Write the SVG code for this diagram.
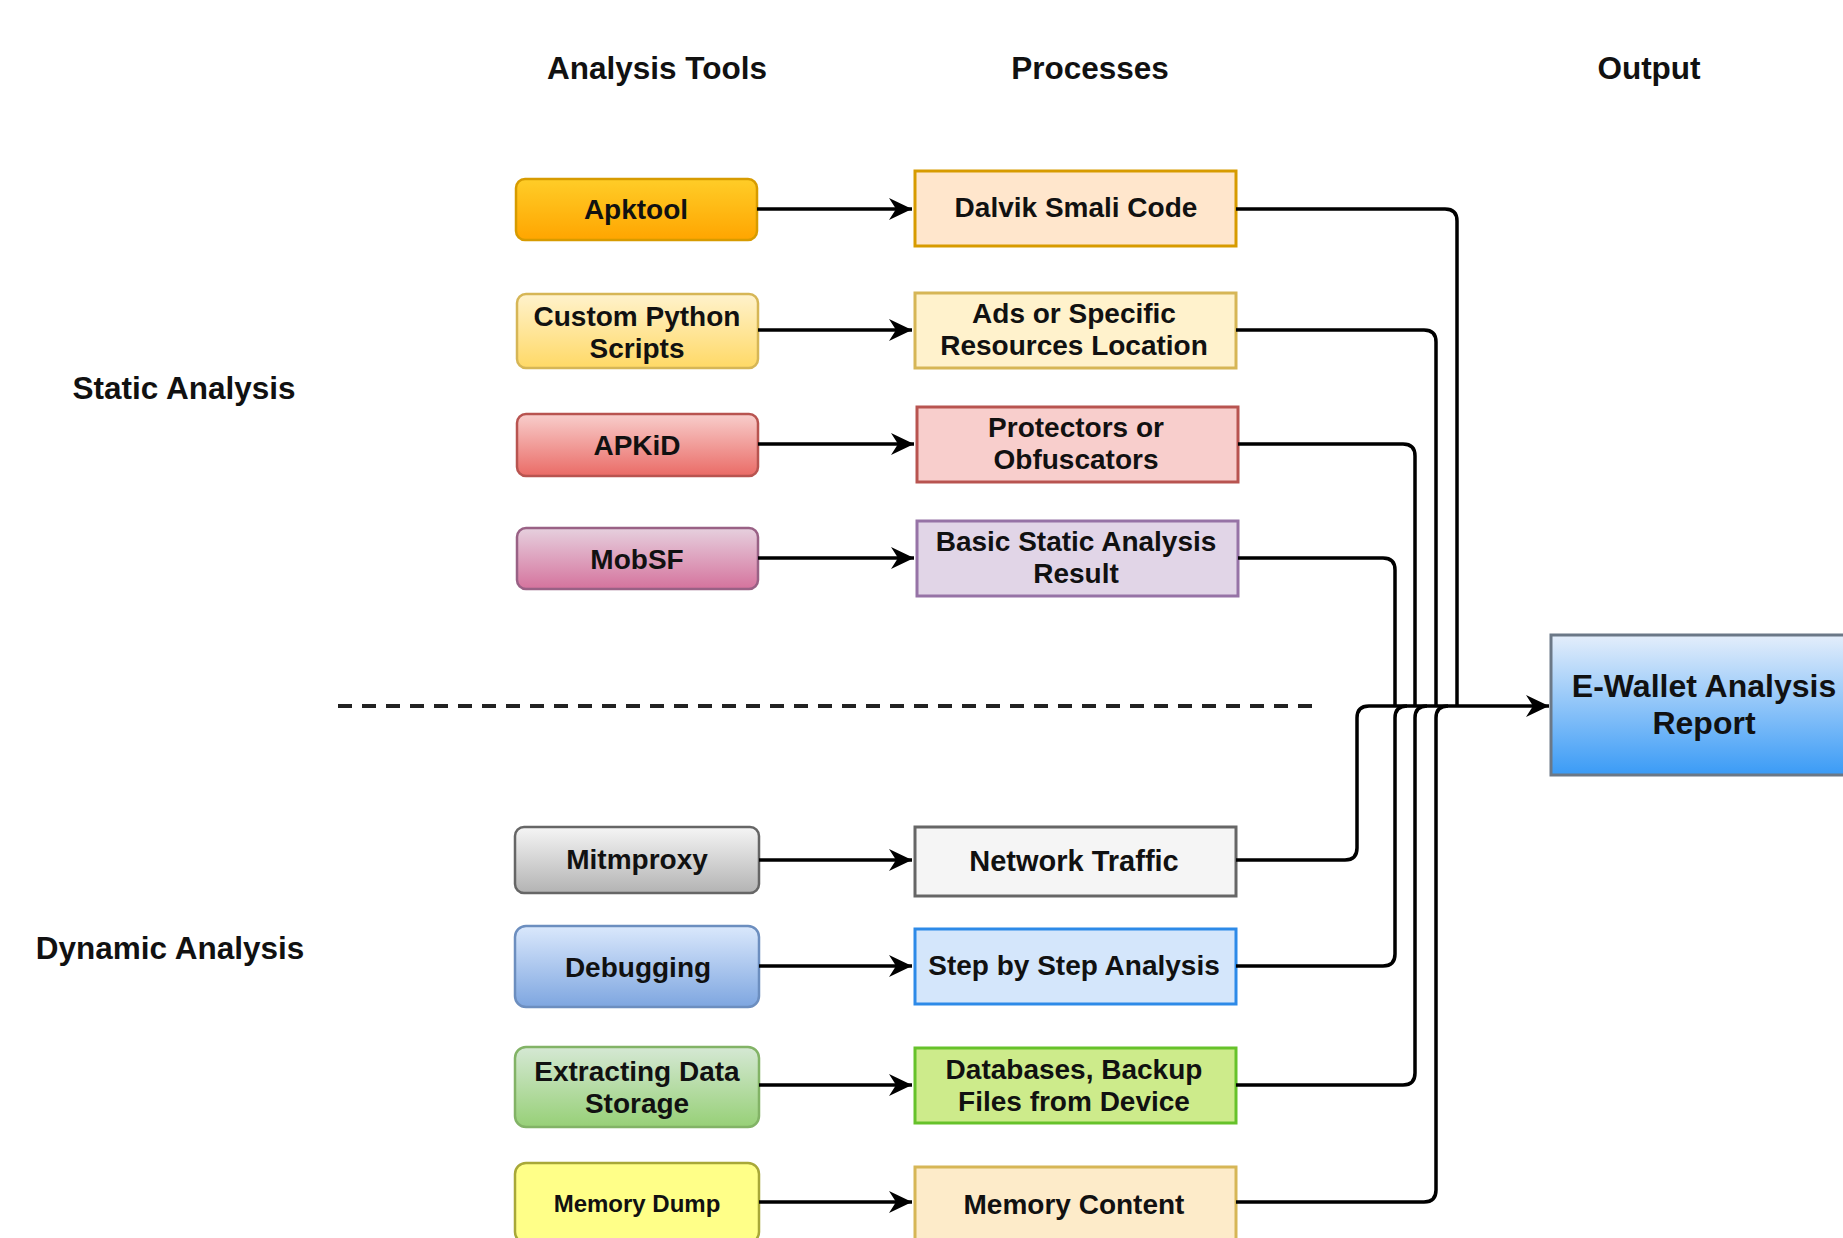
<svg xmlns="http://www.w3.org/2000/svg" width="1843" height="1238" viewBox="0 0 1843 1238">
<style>
text{font-family:"Liberation Sans",Arial,sans-serif;font-weight:bold;fill:#111;text-anchor:middle;dominant-baseline:central}
.hdr{font-size:31.5px}
.lbl{font-size:28px}
.tool{stroke-width:2.5}
.proc{stroke-width:3}
.conn{fill:none;stroke:#000;stroke-width:3.5}
.sep{fill:none;stroke:#222;stroke-width:4;stroke-dasharray:14 10}
</style>
<defs>
<marker id="arr" markerUnits="userSpaceOnUse" markerWidth="25" markerHeight="24" viewBox="0 0 25 24" refX="24" refY="12" orient="auto">
<path d="M24,12 L1,1 L8,12 L1,23 Z" fill="#000"/>
</marker>
<linearGradient id="gApk" x1="0" y1="0" x2="0" y2="1"><stop offset="0" stop-color="#ffcd28"/><stop offset="1" stop-color="#ffa500"/></linearGradient>
<linearGradient id="gPy" x1="0" y1="0" x2="0" y2="1"><stop offset="0" stop-color="#fff2cc"/><stop offset="1" stop-color="#ffd966"/></linearGradient>
<linearGradient id="gKid" x1="0" y1="0" x2="0" y2="1"><stop offset="0" stop-color="#f8cecc"/><stop offset="1" stop-color="#ea6b66"/></linearGradient>
<linearGradient id="gMob" x1="0" y1="0" x2="0" y2="1"><stop offset="0" stop-color="#e6d0de"/><stop offset="1" stop-color="#d5739d"/></linearGradient>
<linearGradient id="gMit" x1="0" y1="0" x2="0" y2="1"><stop offset="0" stop-color="#f5f5f5"/><stop offset="1" stop-color="#b3b3b3"/></linearGradient>
<linearGradient id="gDbg" x1="0" y1="0" x2="0" y2="1"><stop offset="0" stop-color="#dae8fc"/><stop offset="1" stop-color="#7ea6e0"/></linearGradient>
<linearGradient id="gExt" x1="0" y1="0" x2="0" y2="1"><stop offset="0" stop-color="#d5e8d4"/><stop offset="1" stop-color="#97d077"/></linearGradient>
<linearGradient id="gOut" x1="0" y1="0" x2="0" y2="1"><stop offset="0" stop-color="#e4eefb"/><stop offset="1" stop-color="#3a9bf6"/></linearGradient>
</defs>
<rect width="1843" height="1238" fill="#ffffff"/>

<g id="headers">
<text class="hdr" x="657" y="68">Analysis Tools</text>
<text class="hdr" x="1090" y="68">Processes</text>
<text class="hdr" x="1649" y="68">Output</text>
<text class="hdr" x="184" y="388">Static Analysis</text>
<text class="hdr" x="170" y="948">Dynamic Analysis</text>
</g>

<path class="sep" d="M338,706 H1313"/>

<g id="apktool"><rect class="tool" x="516" y="179" width="241" height="61" rx="9" fill="url(#gApk)" stroke="#d79b00"/><text class="lbl" x="636" y="209">Apktool</text></g>
<g id="python"><rect class="tool" x="517" y="294" width="241" height="74" rx="9" fill="url(#gPy)" stroke="#d6b656"/><text class="lbl" x="637" y="316">Custom Python</text><text class="lbl" x="637" y="348">Scripts</text></g>
<g id="apkid"><rect class="tool" x="517" y="414" width="241" height="62" rx="9" fill="url(#gKid)" stroke="#b85450"/><text class="lbl" x="637" y="445">APKiD</text></g>
<g id="mobsf"><rect class="tool" x="517" y="528" width="241" height="61" rx="9" fill="url(#gMob)" stroke="#996185"/><text class="lbl" x="637" y="559">MobSF</text></g>
<g id="mitmproxy"><rect class="tool" x="515" y="827" width="244" height="66" rx="9" fill="url(#gMit)" stroke="#666666"/><text class="lbl" x="637" y="859">Mitmproxy</text></g>
<g id="debugging"><rect class="tool" x="515" y="926" width="244" height="81" rx="11" fill="url(#gDbg)" stroke="#6c8ebf"/><text class="lbl" x="638" y="967">Debugging</text></g>
<g id="extracting"><rect class="tool" x="515" y="1047" width="244" height="80" rx="11" fill="url(#gExt)" stroke="#82b366"/><text class="lbl" x="637" y="1071">Extracting Data</text><text class="lbl" x="637" y="1103">Storage</text></g>
<g id="memdump"><rect class="tool" x="515" y="1163" width="244" height="80" rx="11" fill="#ffff88" stroke="#a8a838"/><text x="637" y="1203" style="font-size:24px">Memory Dump</text></g>

<g id="dalvik"><rect class="proc" x="915" y="171" width="321" height="75" fill="#ffe6cc" stroke="#d79b00"/><text class="lbl" x="1076" y="207">Dalvik Smali Code</text></g>
<g id="ads"><rect class="proc" x="915" y="293" width="321" height="75" fill="#fff2cc" stroke="#d6b656"/><text class="lbl" x="1074" y="313">Ads or Specific</text><text class="lbl" x="1074" y="345">Resources Location</text></g>
<g id="protectors"><rect class="proc" x="917" y="407" width="321" height="75" fill="#f8cecc" stroke="#b85450"/><text class="lbl" x="1076" y="427">Protectors or</text><text class="lbl" x="1076" y="459">Obfuscators</text></g>
<g id="basic"><rect class="proc" x="917" y="521" width="321" height="75" fill="#e1d5e7" stroke="#9673a6"/><text class="lbl" x="1076" y="541">Basic Static Analysis</text><text class="lbl" x="1076" y="573">Result</text></g>
<g id="network"><rect class="proc" x="915" y="827" width="321" height="69" fill="#f5f5f5" stroke="#666666"/><text x="1074" y="861" style="font-size:29px">Network Traffic</text></g>
<g id="step"><rect class="proc" x="915" y="929" width="321" height="75" fill="#d4e6fb" stroke="#2d8ae8"/><text class="lbl" x="1074" y="965">Step by Step Analysis</text></g>
<g id="databases"><rect class="proc" x="915" y="1048" width="321" height="75" fill="#cdeb8b" stroke="#66c22a"/><text class="lbl" x="1074" y="1069">Databases, Backup</text><text class="lbl" x="1074" y="1101">Files from Device</text></g>
<g id="memcontent"><rect class="proc" x="915" y="1167" width="321" height="76" fill="#fdebc9" stroke="#d6b656"/><text class="lbl" x="1074" y="1204">Memory Content</text></g>

<g id="report"><rect x="1551" y="635" width="300" height="140" fill="url(#gOut)" stroke="#6b7887" stroke-width="3"/><text x="1704" y="686" style="font-size:32px">E-Wallet Analysis</text><text x="1704" y="723" style="font-size:32px">Report</text></g>

<g id="connectors">
<path class="conn" d="M757,209 H912" marker-end="url(#arr)"/>
<path class="conn" d="M758,330 H912" marker-end="url(#arr)"/>
<path class="conn" d="M758,444 H914" marker-end="url(#arr)"/>
<path class="conn" d="M758,558 H914" marker-end="url(#arr)"/>
<path class="conn" d="M759,860 H912" marker-end="url(#arr)"/>
<path class="conn" d="M759,966 H912" marker-end="url(#arr)"/>
<path class="conn" d="M759,1085 H912" marker-end="url(#arr)"/>
<path class="conn" d="M759,1202 H912" marker-end="url(#arr)"/>

<path class="conn" d="M1236,209 H1445 Q1457,209 1457,221 V706"/>
<path class="conn" d="M1236,330 H1424 Q1436,330 1436,342 V706"/>
<path class="conn" d="M1238,444 H1403 Q1415,444 1415,456 V706"/>
<path class="conn" d="M1238,558 H1383 Q1395,558 1395,570 V706"/>
<path class="conn" d="M1236,860 H1345 Q1357,860 1357,848 V718 Q1357,706 1369,706"/>
<path class="conn" d="M1236,966 H1383 Q1395,966 1395,954 V718 Q1395,706 1407,706"/>
<path class="conn" d="M1236,1085 H1403 Q1415,1085 1415,1073 V718 Q1415,706 1427,706"/>
<path class="conn" d="M1236,1202 H1424 Q1436,1202 1436,1190 V718 Q1436,706 1448,706"/>
<path class="conn" d="M1369,706 H1549" marker-end="url(#arr)"/>
</g>
</svg>
